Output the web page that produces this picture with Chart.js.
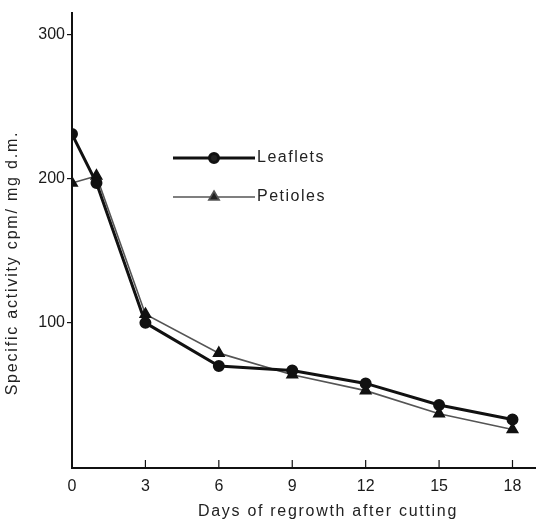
<!DOCTYPE html>
<html>
<head>
<meta charset="utf-8">
<script src="https://cdn.jsdelivr.net/npm/chart.js@4/dist/chart.umd.min.js"></script>
<style>
  html, body { margin: 0; padding: 0; background: #fff; }
  #wrap { width: 536px; height: 520px; position: relative; }
</style>
</head>
<body>
<div id="wrap"><canvas id="activity"></canvas></div>
<script>
// data
const days = [0, 1, 3, 6, 9, 12, 15, 18];
const leaflets = [231, 197, 100, 70, 67, 58, 43, 33];
const petioles = [197, 202, 106, 79, 64, 53, 37, 26];
const xTicks = [0, 3, 6, 9, 12, 15, 18];
const yTicks = [100, 200, 300];

const FONT = "'Liberation Sans', Arial, sans-serif";

// x axis line runs on to the page edge and its ticks point up, so draw them by hand
const xAxisLine = {
    id: "xAxisLine",
    afterDraw(chart) {
        const c = chart.ctx;
        const sx = chart.scales.x;
        const area = chart.chartArea;
        const base = Math.round(area.bottom);
        c.save();
        c.strokeStyle = "#111";
        c.lineWidth = 1.2;
        xTicks.forEach(function (d) {
            if (d === 0) return;
            const px = sx.getPixelForValue(d);
            c.beginPath();
            c.moveTo(px, base);
            c.lineTo(px, base - 7);
            c.stroke();
        });
        c.lineWidth = 2;
        c.beginPath();
        c.moveTo(area.left - 1, base + 1);
        c.lineTo(chart.width, base + 1);
        c.stroke();
        c.restore();
    }
};

// legend + axis titles placed like the original
const labels = {
    id: "labels",
    afterDraw(chart) {
        const c = chart.ctx;
        c.save();
        c.fillStyle = "#222";

        // legend
        const rows = [
            { y: 158, ds: chart.data.datasets[0] },
            { y: 197, ds: chart.data.datasets[1] }
        ];
        rows.forEach(function (r) {
            c.strokeStyle = r.ds.borderColor;
            c.lineWidth = r.ds.borderWidth;
            c.beginPath();
            c.moveTo(173, r.y);
            c.lineTo(255, r.y);
            c.stroke();
            Chart.helpers.drawPoint(c, {
                pointStyle: r.ds.pointStyle,
                radius: r.ds.pointRadius,
                borderWidth: 1
            }, 214, r.y);
            c.font = "16px " + FONT;
            c.letterSpacing = "1.5px";
            c.textAlign = "left";
            c.textBaseline = "middle";
            c.fillStyle = "#222";
            c.fillText(r.ds.label, 257, r.y);
        });

        // x title
        c.font = "16px " + FONT;
        c.letterSpacing = "1.7px";
        c.textAlign = "left";
        c.textBaseline = "middle";
        c.fillText("Days of regrowth after cutting", 198, 512);

        // y title
        c.translate(13, 263);
        c.rotate(-Math.PI / 2);
        c.letterSpacing = "1.8px";
        c.textAlign = "center";
        c.fillText("Specific activity cpm/ mg d.m.", 0, 0);
        c.restore();
    }
};

new Chart(document.getElementById("activity"), {
    type: "line",
    data: {
        datasets: [
            {
                label: "Leaflets",
                data: days.map((d, i) => ({ x: d, y: leaflets[i] })),
                borderColor: "#111",
                backgroundColor: "#111",
                borderWidth: 3,
                pointStyle: "circle",
                pointRadius: 4.5,
                pointBackgroundColor: "#111",
                pointBorderColor: "#111",
                tension: 0,
            },
            {
                label: "Petioles",
                data: days.map((d, i) => ({ x: d, y: petioles[i] })),
                borderColor: "#555",
                backgroundColor: "#111",
                borderWidth: 1.6,
                pointStyle: "triangle",
                pointRadius: 6,
                pointBackgroundColor: "#111",
                pointBorderColor: "#111",
                tension: 0,
            },
        ],
    },
    options: {
        responsive: true,
        maintainAspectRatio: false,
        animation: false,
        layout: { padding: { top: 13, right: 0, left: 0, bottom: 0 } },
        plugins: {
            legend: { display: false },
            tooltip: { enabled: false },
        },
        scales: {
            x: {
                type: "linear",
                min: 0,
                max: 18.65,
                afterFit: (s) => { s.height = 53; },
                afterBuildTicks: (s) => { s.ticks = xTicks.map((v) => ({ value: v })); },
                border: { display: false },
                grid: { display: false },
                ticks: {
                    color: "#1a1a1a",
                    padding: 2,
                    font: { family: FONT, size: 16 },
                    maxRotation: 0,
                },
            },
            y: {
                min: 0,
                max: 315,
                afterFit: (s) => { s.width = 72; },
                afterBuildTicks: (s) => { s.ticks = yTicks.map((v) => ({ value: v })); },
                border: { display: true, color: "#111", width: 2 },
                grid: {
                    display: true,
                    drawOnChartArea: false,
                    drawTicks: true,
                    tickLength: 5,
                    color: "#111",
                    lineWidth: 1.2,
                },
                ticks: {
                    color: "#1a1a1a",
                    padding: 2,
                    font: { family: FONT, size: 16 },
                },
            },
        },
    },
    plugins: [xAxisLine, labels],
});
</script>
</body>
</html>
